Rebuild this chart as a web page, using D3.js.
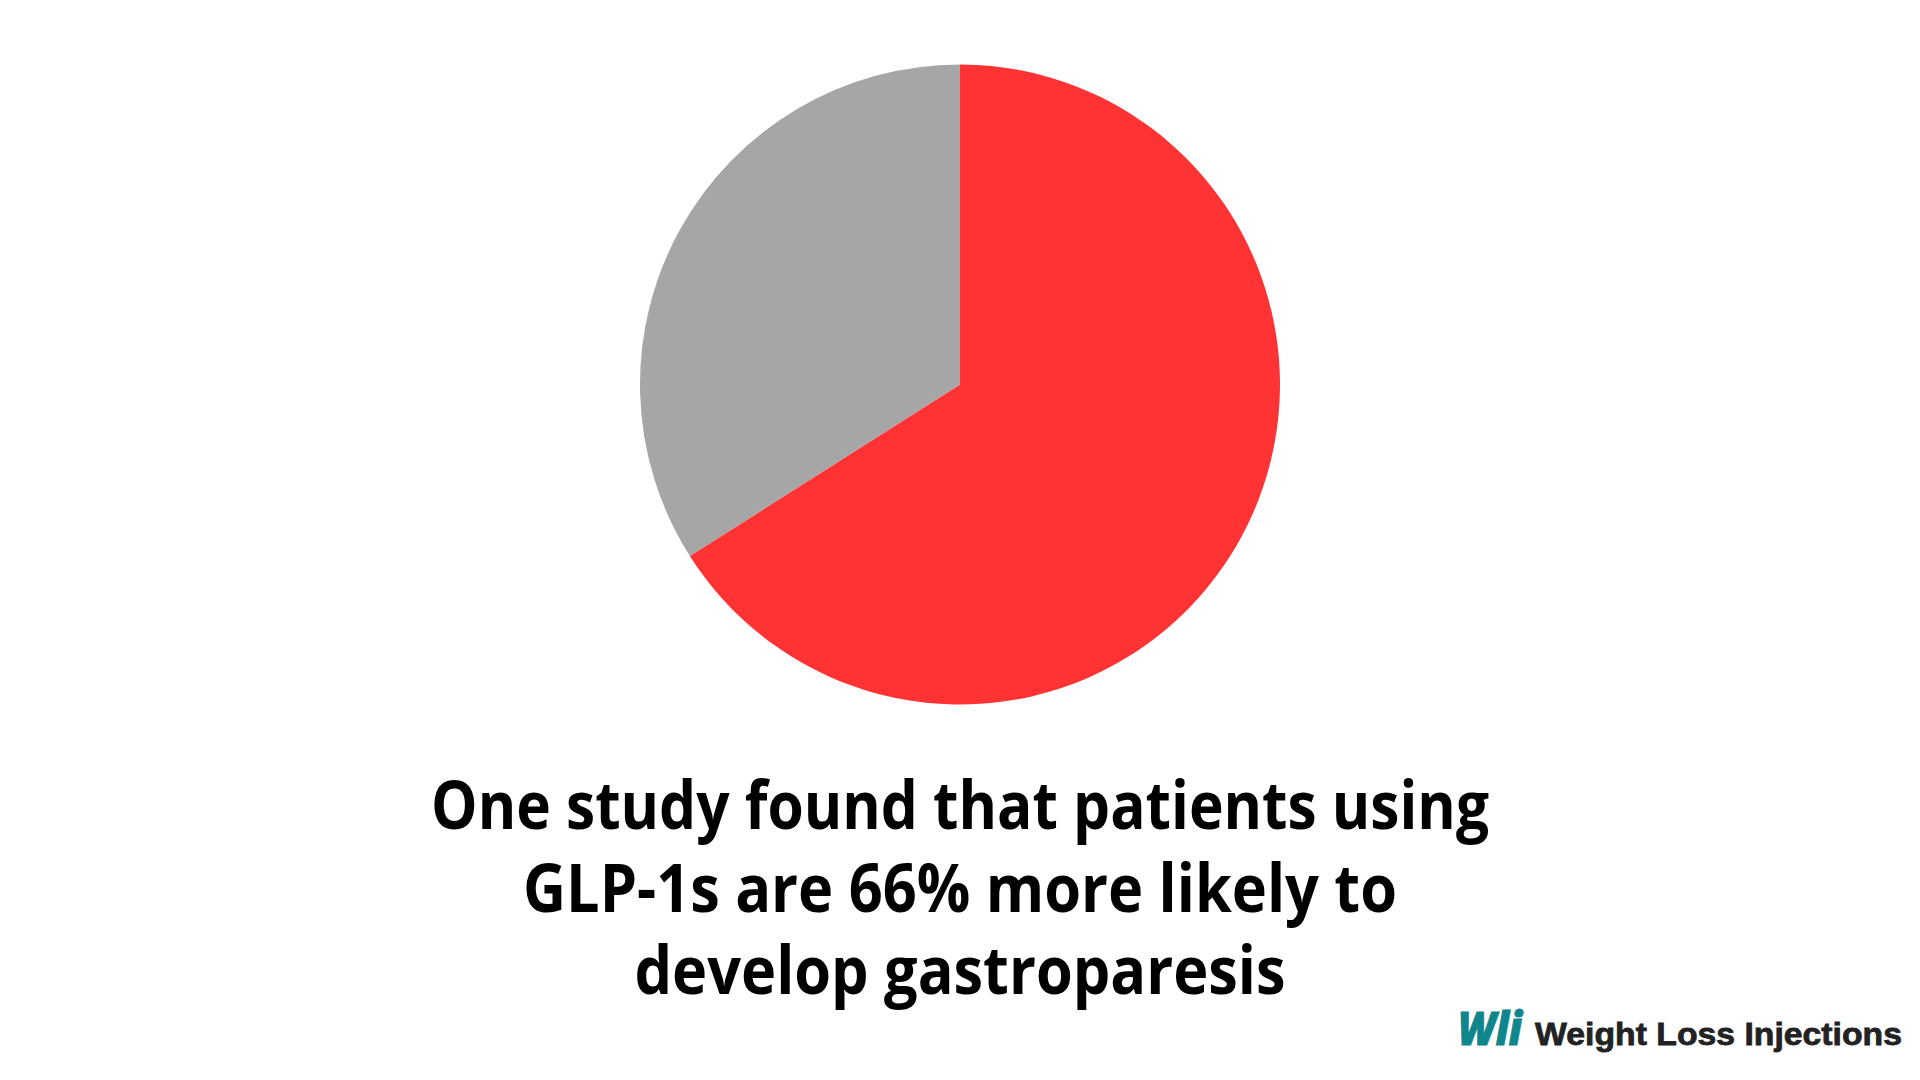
<!DOCTYPE html>
<html>
<head>
<meta charset="utf-8">
<script src="https://cdn.jsdelivr.net/npm/d3@7"></script>
<style>
  html, body { margin: 0; padding: 0; background: #ffffff; }
  svg { display: block; }
</style>
</head>
<body>
<svg id="chart" width="1920" height="1080"></svg>
<script>
// Data
const categories = ["Patients using GLP-1s (more likely)", "Other"];
const values = [66, 34];
const colors = ["#FF3333", "#A6A6A6"];
const captionLines = [
  "One study found that patients using",
  "GLP-1s are 66% more likely to",
  "develop gastroparesis"
];
const captionWidths = [1058, 874, 651];
const brandMark = "Wli";
const brandName = "Weight Loss Injections";

const svg = d3.select("#chart");
const W = 1920, H = 1080;

svg.append("rect").attr("width", W).attr("height", H).attr("fill", "#ffffff");

// Pie
const cx = 960, cy = 384.5, r = 320;
const pie = d3.pie().sort(null).value(d => d.value);
const arc = d3.arc().innerRadius(0).outerRadius(r);
const data = categories.map((c, i) => ({ cat: c, value: values[i], color: colors[i] }));

svg.append("g")
  .attr("transform", `translate(${cx},${cy})`)
  .selectAll("path")
  .data(pie(data))
  .join("path")
  .attr("d", arc)
  .attr("fill", d => d.data.color);

// Caption
const baselines = [829, 912, 994];
svg.append("g")
  .selectAll("text")
  .data(captionLines)
  .join("text")
  .attr("x", 960)
  .attr("y", (d, i) => baselines[i])
  .attr("text-anchor", "middle")
  .attr("font-family", "'Open Sans', 'Noto Sans', sans-serif")
  .attr("font-weight", 700)
  .attr("font-size", 66)
  .attr("fill", "#000000")
  .attr("textLength", (d, i) => captionWidths[i])
  .attr("lengthAdjust", "spacingAndGlyphs")
  .text(d => d);

// Brand logo
svg.append("text")
  .attr("x", 1458)
  .attr("y", 1045)
  .attr("font-family", "'Open Sans', 'Noto Sans', sans-serif")
  .attr("font-weight", 800)
  .attr("font-style", "italic")
  .attr("font-size", 46)
  .attr("fill", "#0E868C")
  .attr("stroke", "#0E868C")
  .attr("stroke-width", 1)
  .attr("textLength", 64)
  .attr("lengthAdjust", "spacingAndGlyphs")
  .text(brandMark);

svg.append("text")
  .attr("x", 1535)
  .attr("y", 1045)
  .attr("font-family", "'Liberation Sans', Arial, sans-serif")
  .attr("font-weight", 700)
  .attr("font-size", 32)
  .attr("fill", "#222222")
  .attr("stroke", "#222222")
  .attr("stroke-width", 0.8)
  .attr("textLength", 367)
  .attr("lengthAdjust", "spacingAndGlyphs")
  .text(brandName);
</script>
</body>
</html>
